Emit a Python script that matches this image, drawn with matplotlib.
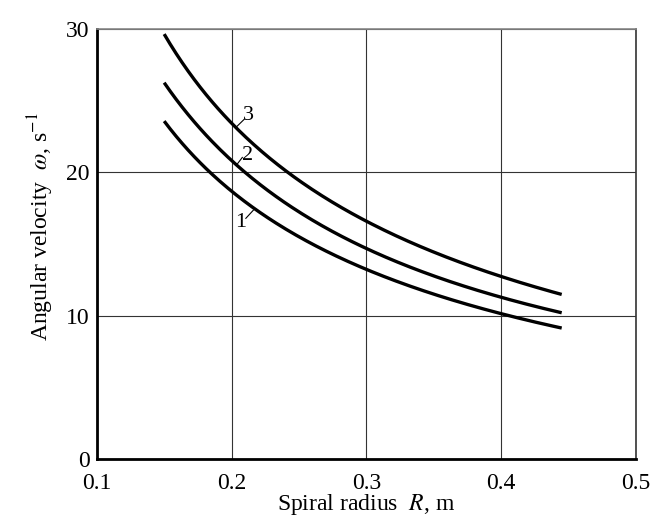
import numpy as np
import matplotlib
matplotlib.use("Agg")
import matplotlib.pyplot as plt

# valores
radius = [0.15, 0.175, 0.2, 0.25, 0.3, 0.35, 0.4, 0.445]
omega_1 = [23.5, 21.0, 18.6, 15.5, 13.2, 11.5, 10.2, 9.1]
omega_2 = [26.2, 23.4, 20.7, 17.2, 14.8, 12.7, 11.3, 10.2]
omega_3 = [29.6, 26.3, 23.3, 19.4, 16.7, 14.4, 12.7, 11.5]
curve_labels = ["1", "2", "3"]

x_ticks = [0.1, 0.2, 0.3, 0.4, 0.5]
y_ticks = [0, 10, 20, 30]

plt.rcParams['font.family'] = ['Liberation Serif', 'DejaVu Serif']
plt.rcParams['mathtext.fontset'] = 'stix'

fig = plt.figure(figsize=(6.63, 5.18), dpi=100)
ax = fig.add_axes([0.146, 0.114, 0.813, 0.830])

# curvas suaves passando pelos pontos lidos
xs = np.linspace(radius[0], radius[-1], 200)
for omega in [omega_1, omega_2, omega_3]:
    coef = np.polyfit(np.log(radius), np.log(omega), 3)
    ys = np.exp(np.polyval(coef, np.log(xs)))
    ax.plot(xs, ys, color='black', lw=2.4, solid_capstyle='butt')

# rótulos das curvas com pequenas linhas de chamada
ax.plot([0.2036, 0.2093], [23.17, 23.69], color='black', lw=0.8)
ax.text(0.2088, 23.95, curve_labels[2], fontsize=16, ha='left', va='center')
ax.plot([0.2036, 0.2080], [20.5, 21.04], color='black', lw=0.8)
ax.text(0.2076, 21.2, curve_labels[1], fontsize=16, ha='left', va='center')
ax.plot([0.2162, 0.2106], [17.36, 16.79], color='black', lw=0.8)
ax.text(0.2112, 16.5, curve_labels[0], fontsize=16, ha='right', va='center')

ax.set_xlim(0.1, 0.5)
ax.set_ylim(0, 30)
ax.set_xticks(x_ticks)
ax.set_xticklabels(["0.1", "0.2", "0.3", "0.4", "0.5"])
ax.set_yticks(y_ticks)
ax.grid(True, color='#333333', lw=0.8)
ax.tick_params(length=0, labelsize=17)
ax.tick_params(axis='x', pad=10)
ax.tick_params(axis='y', pad=5)

ax.spines['left'].set_linewidth(2.0)
ax.spines['bottom'].set_linewidth(2.0)
ax.spines['right'].set_linewidth(1.2)
ax.spines['right'].set_color('#333333')
ax.spines['top'].set_linewidth(1.2)
ax.spines['top'].set_color('#888888')

ax.set_xlabel("Spiral radius  $R$, m", fontsize=17)
ax.xaxis.set_label_coords(0.5, -0.077)
ax.set_ylabel("Angular velocity  $\\omega$, s$^{-1}$", fontsize=17)
ax.yaxis.set_label_coords(-0.075, 0.54)

fig.savefig("out.png", dpi=100)
